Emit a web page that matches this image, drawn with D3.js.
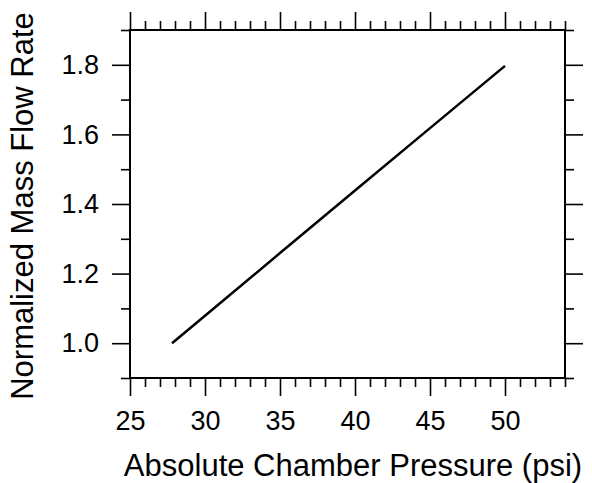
<!DOCTYPE html>
<html>
<head>
<meta charset="utf-8">
<script src="https://cdn.jsdelivr.net/npm/d3@7"></script>
<style>
  body { margin: 0; background: #fff; }
  text { font-family: "Liberation Sans", Arial, Helvetica, sans-serif; fill: #000; }
</style>
</head>
<body>
<div id="chart"></div>
<script>
// chamber pressure (psi) vs normalized mass flow rate
var pressure = [27.8, 30, 35, 40, 45, 50];
var flowRate = [1.0, 1.079, 1.259, 1.439, 1.618, 1.797];

var xMajor = [25, 30, 35, 40, 45, 50];
var xMinor = d3.range(26, 55).filter(function (d) { return d % 5 != 0; });
var yMajor = [1.0, 1.2, 1.4, 1.6, 1.8];
var yMinor = [0.9, 1.1, 1.3, 1.5, 1.7, 1.9];

var width = 592, height = 483;
var plotLeft = 130, plotRight = 565, plotTop = 30, plotBottom = 378;

var svg = d3.select("#chart").append("svg")
    .attr("width", width)
    .attr("height", height);

var x = d3.scaleLinear().domain([25, 54]).range([plotLeft, plotRight]);
var y = d3.scaleLinear().domain([0.9, 1.9]).range([plotBottom, plotTop]);

//draw one axis: major ticks with labels + minor ticks
var drawAxis = function (axisFn, scale, major, minor, transform, labels, pad) {
    var g = svg.append("g").attr("transform", transform);
    g.append("g").call(axisFn(scale).tickValues(minor).tickSize(9).tickFormat(""))
        .call(function (s) { s.select(".domain").remove(); });
    var ax = axisFn(scale).tickValues(major).tickSize(18).tickPadding(pad);
    if (labels) ax.tickFormat(labels); else ax.tickFormat("");
    g.append("g").call(ax)
        .call(function (s) { s.select(".domain").remove(); });
    g.selectAll("line").attr("stroke", "#000").attr("stroke-width", 1.6);
    g.selectAll("g").attr("font-size", null).attr("font-family", null);
    g.selectAll("text").style("font-size", "27px");
    return g;
};

drawAxis(d3.axisBottom, x, xMajor, xMinor, "translate(0," + plotBottom + ")", d3.format("d"), 15);
drawAxis(d3.axisTop, x, xMajor, xMinor, "translate(0," + plotTop + ")", null, 4);
drawAxis(d3.axisLeft, y, yMajor, yMinor, "translate(" + plotLeft + ",0)", d3.format(".1f"), 13);
drawAxis(d3.axisRight, y, yMajor, yMinor, "translate(" + plotRight + ",0)", null, 4);

//frame
svg.append("rect")
    .attr("x", plotLeft)
    .attr("y", plotTop)
    .attr("width", plotRight - plotLeft)
    .attr("height", plotBottom - plotTop)
    .attr("fill", "none")
    .attr("stroke", "#000")
    .attr("stroke-width", 2);

//data line
var line = d3.line()
    .x(function (d, i) { return x(pressure[i]); })
    .y(function (d, i) { return y(flowRate[i]); });

svg.append("path")
    .datum(pressure)
    .attr("d", line)
    .attr("fill", "none")
    .attr("stroke", "#000")
    .attr("stroke-width", 2.5);

//axis titles
svg.append("text")
    .attr("x", 353)
    .attr("y", 476)
    .attr("text-anchor", "middle")
    .style("font-size", "31px")
    .text("Absolute Chamber Pressure (psi)");

svg.append("text")
    .attr("transform", "translate(33,206) rotate(-90)")
    .attr("text-anchor", "middle")
    .style("font-size", "31px")
    .text("Normalized Mass Flow Rate");
</script>
</body>
</html>
